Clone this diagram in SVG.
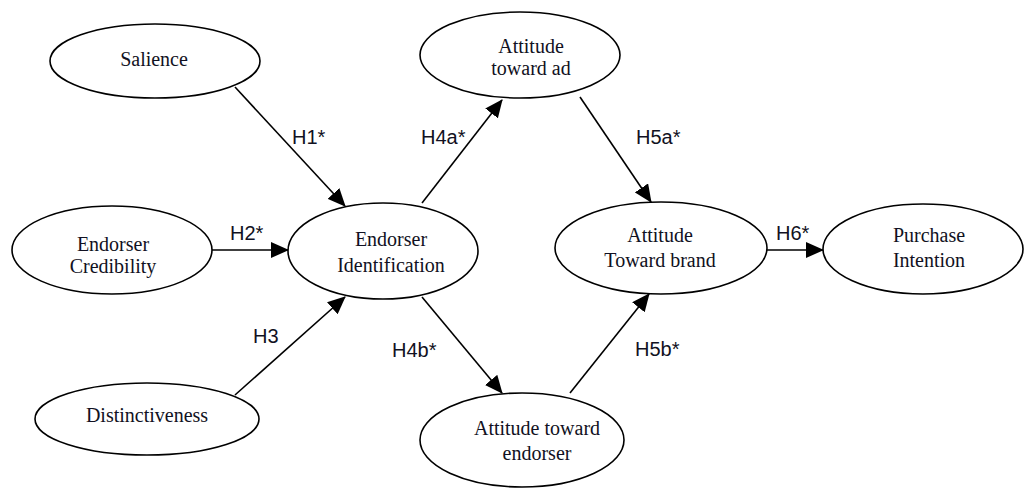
<svg xmlns="http://www.w3.org/2000/svg" width="1029" height="489" viewBox="0 0 1029 489">
  <style>
    .node ellipse { fill: #ffffff; stroke: #000000; stroke-width: 1.6; }
    .node text { font-family: "Liberation Serif", "Times New Roman", serif; font-size: 20px; fill: #111122; text-anchor: middle; }
    .edge { stroke: #000000; stroke-width: 1.6; fill: none; marker-end: url(#arrow); }
    .lbl { font-family: "Liberation Sans", Arial, sans-serif; font-size: 20px; fill: #111122; }
  </style>
  <defs>
    <marker id="arrow" markerUnits="userSpaceOnUse" markerWidth="18" markerHeight="16" refX="17" refY="8" orient="auto">
      <path d="M0,0 L18,8 L0,16 Z" fill="#000000"/>
    </marker>
  </defs>
  <rect width="1029" height="489" fill="#ffffff"/>

  <g id="connectors">
    <line class="edge" x1="235" y1="87" x2="345" y2="206"/>
    <line class="edge" x1="212" y1="250" x2="288" y2="250"/>
    <line class="edge" x1="235" y1="395" x2="345" y2="297"/>
    <line class="edge" x1="422" y1="203" x2="502" y2="100"/>
    <line class="edge" x1="422" y1="297" x2="502" y2="393"/>
    <line class="edge" x1="580" y1="97" x2="651" y2="202"/>
    <line class="edge" x1="570" y1="393" x2="649" y2="294"/>
    <line class="edge" x1="767" y1="250" x2="823" y2="250"/>
    <text class="lbl" x="292" y="144">H1*</text>
    <text class="lbl" x="230" y="240">H2*</text>
    <text class="lbl" x="253" y="343">H3</text>
    <text class="lbl" x="421" y="144">H4a*</text>
    <text class="lbl" x="392" y="357">H4b*</text>
    <text class="lbl" x="636" y="144">H5a*</text>
    <text class="lbl" x="635" y="356">H5b*</text>
    <text class="lbl" x="776" y="240">H6*</text>
  </g>

  <g id="salience" class="node">
    <ellipse cx="155" cy="61" rx="105" ry="37"/>
    <text x="154" y="66">Salience</text>
  </g>
  <g id="endorser-credibility" class="node">
    <ellipse cx="112" cy="250" rx="100" ry="44"/>
    <text x="113" y="251">Endorser</text>
    <text x="113" y="273">Credibility</text>
  </g>
  <g id="distinctiveness" class="node">
    <ellipse cx="147" cy="419" rx="112" ry="36"/>
    <text x="147" y="422">Distinctiveness</text>
  </g>
  <g id="endorser-identification" class="node">
    <ellipse cx="383" cy="251" rx="95" ry="48"/>
    <text x="391" y="246">Endorser</text>
    <text x="391" y="272">Identification</text>
  </g>
  <g id="attitude-ad" class="node">
    <ellipse cx="520" cy="55" rx="100" ry="43"/>
    <text x="531" y="53">Attitude</text>
    <text x="531" y="75">toward ad</text>
  </g>
  <g id="attitude-endorser" class="node">
    <ellipse cx="522" cy="440" rx="102" ry="47"/>
    <text x="537" y="435">Attitude toward</text>
    <text x="537" y="460">endorser</text>
  </g>
  <g id="attitude-brand" class="node">
    <ellipse cx="661" cy="248" rx="106" ry="46"/>
    <text x="660" y="242">Attitude</text>
    <text x="660" y="267">Toward brand</text>
  </g>
  <g id="purchase-intention" class="node">
    <ellipse cx="923" cy="249" rx="100" ry="45"/>
    <text x="929" y="242">Purchase</text>
    <text x="929" y="267">Intention</text>
  </g>
</svg>
